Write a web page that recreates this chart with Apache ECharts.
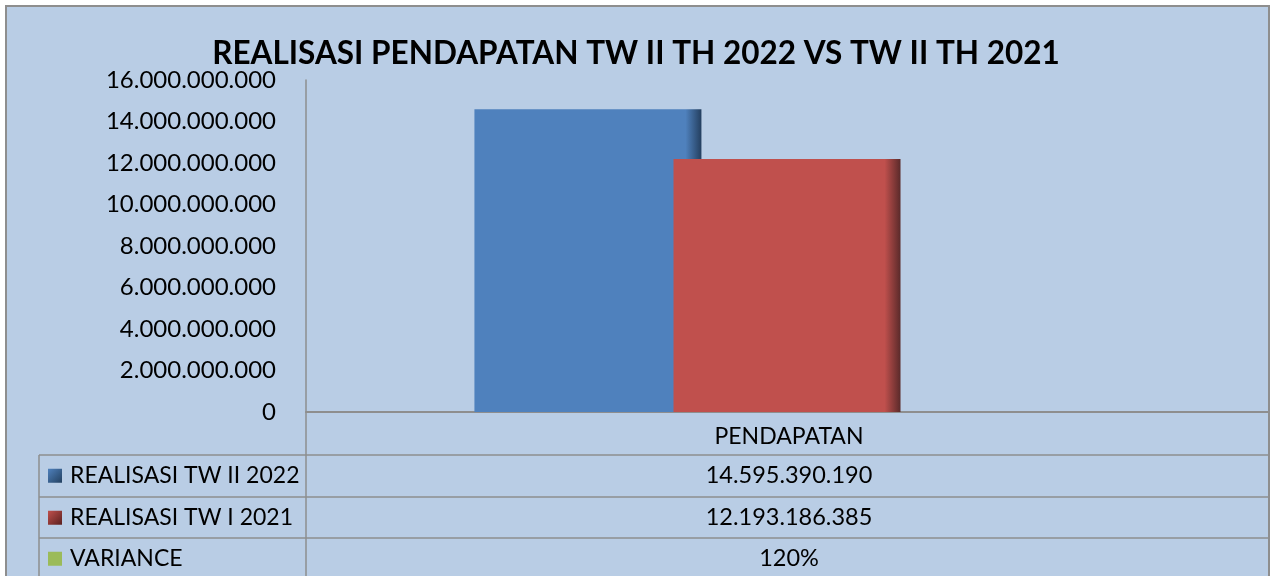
<!DOCTYPE html>
<html>
<head>
<meta charset="utf-8">
<script src="https://cdn.jsdelivr.net/npm/echarts@6/dist/echarts.min.js"></script>
<style>
  html, body { margin: 0; padding: 0; background: #fff; }
  #myChart { width: 1272px; height: 576px; }
</style>
</head>
<body>
<div id="myChart"></div>
<script>
  // data
  const categories = ['PENDAPATAN'];
  const seriesNames = ['REALISASI TW II 2022', 'REALISASI TW I 2021', 'VARIANCE'];
  const realisasi2022 = [14595390190];
  const realisasi2021 = [12193186385];
  const variance = [1.2];
  const yTicks = [0, 16000000000, 2000000000]; // min, max, interval

  const font = 'Lato';
  const lineColor = '#8e8e8e';

  function dots(v) {
    return String(v).replace(/\B(?=(\d{3})+(?!\d))/g, '.');
  }
  function pct(v) {
    return Math.round(v * 100) + '%';
  }

  function barFill(base, dark) {
    return new echarts.graphic.LinearGradient(0, 0, 1, 0, [
      { offset: 0, color: base },
      { offset: 0.93, color: base },
      { offset: 1, color: dark }
    ]);
  }
  function keyFill(a, b) {
    return new echarts.graphic.LinearGradient(0, 0, 1, 1, [
      { offset: 0, color: a },
      { offset: 1, color: b }
    ]);
  }

  // data table under the plot
  const tableRows = [
    { name: seriesNames[0], text: dots(realisasi2022[0]), key: keyFill('#4f81bd', '#23405f') },
    { name: seriesNames[1], text: dots(realisasi2021[0]), key: keyFill('#c0504d', '#5a1f1e') },
    { name: seriesNames[2], text: pct(variance[0]), key: '#9bbb59' }
  ];
  const rowTop = [455, 497, 538];
  const rowH = 41.5;

  let graphics = [
    { type: 'rect', z: -10, shape: { x: 6, y: 6, width: 1263, height: 620 },
      style: { fill: '#b9cde5', stroke: lineColor, lineWidth: 2 } },
    { type: 'line', shape: { x1: 306, y1: 412, x2: 306, y2: 576 }, style: { stroke: lineColor, lineWidth: 1.5 } },
    { type: 'line', shape: { x1: 39, y1: 455, x2: 39, y2: 576 }, style: { stroke: lineColor, lineWidth: 1.5 } },
    { type: 'text', x: 789, y: 437,
      style: { text: categories[0], font: '23px ' + font, fill: '#000', align: 'center', verticalAlign: 'middle' } }
  ];
  tableRows.forEach((r, i) => {
    const y = rowTop[i];
    graphics.push(
      { type: 'line', shape: { x1: 39, y1: y, x2: 1268, y2: y }, style: { stroke: lineColor, lineWidth: 1.5 } },
      { type: 'rect', shape: { x: 48, y: y + rowH / 2 - 7, width: 14, height: 14 }, style: { fill: r.key } },
      { type: 'text', x: 70, y: y + rowH / 2,
        style: { text: r.name, font: '23px ' + font, fill: '#000', align: 'left', verticalAlign: 'middle' } },
      { type: 'text', x: 789, y: y + rowH / 2,
        style: { text: r.text, font: '23.5px ' + font, fill: '#000', align: 'center', verticalAlign: 'middle' } }
    );
  });

  let myChart = echarts.init(document.getElementById('myChart'));
  myChart.setOption({
    backgroundColor: '#fff',
    animation: false,
    title: {
      text: 'REALISASI PENDAPATAN TW II TH 2022 VS TW II TH 2021',
      left: 'center',
      top: 32,
      textStyle: { fontFamily: font, fontWeight: 'bold', fontSize: 31.5, color: '#000', lineHeight: 34 }
    },
    grid: { left: 306, right: 4, top: 80, bottom: 164 },
    xAxis: {
      type: 'category',
      data: categories,
      axisLine: { lineStyle: { color: lineColor, width: 2 } },
      axisTick: { show: false },
      axisLabel: { show: false }
    },
    yAxis: {
      type: 'value',
      min: yTicks[0],
      max: yTicks[1],
      interval: yTicks[2],
      axisLine: { show: true, lineStyle: { color: lineColor, width: 1.5 } },
      axisTick: { show: false },
      splitLine: { show: false },
      axisLabel: {
        margin: 30,
        fontFamily: font,
        fontSize: 24,
        color: '#000',
        formatter: v => dots(v)
      }
    },
    series: [
      { name: seriesNames[0], type: 'bar', data: realisasi2022, barWidth: 227, barGap: '-12.3%',
        itemStyle: { color: barFill('#4f81bd', '#243f5f') } },
      { name: seriesNames[1], type: 'bar', data: realisasi2021, barWidth: 227,
        itemStyle: { color: barFill('#c0504d', '#5a2a2a') } },
      { name: seriesNames[2], type: 'bar', data: variance, barWidth: 227,
        itemStyle: { color: '#9bbb59' } }
    ],
    graphic: graphics
  });
</script>
</body>
</html>
